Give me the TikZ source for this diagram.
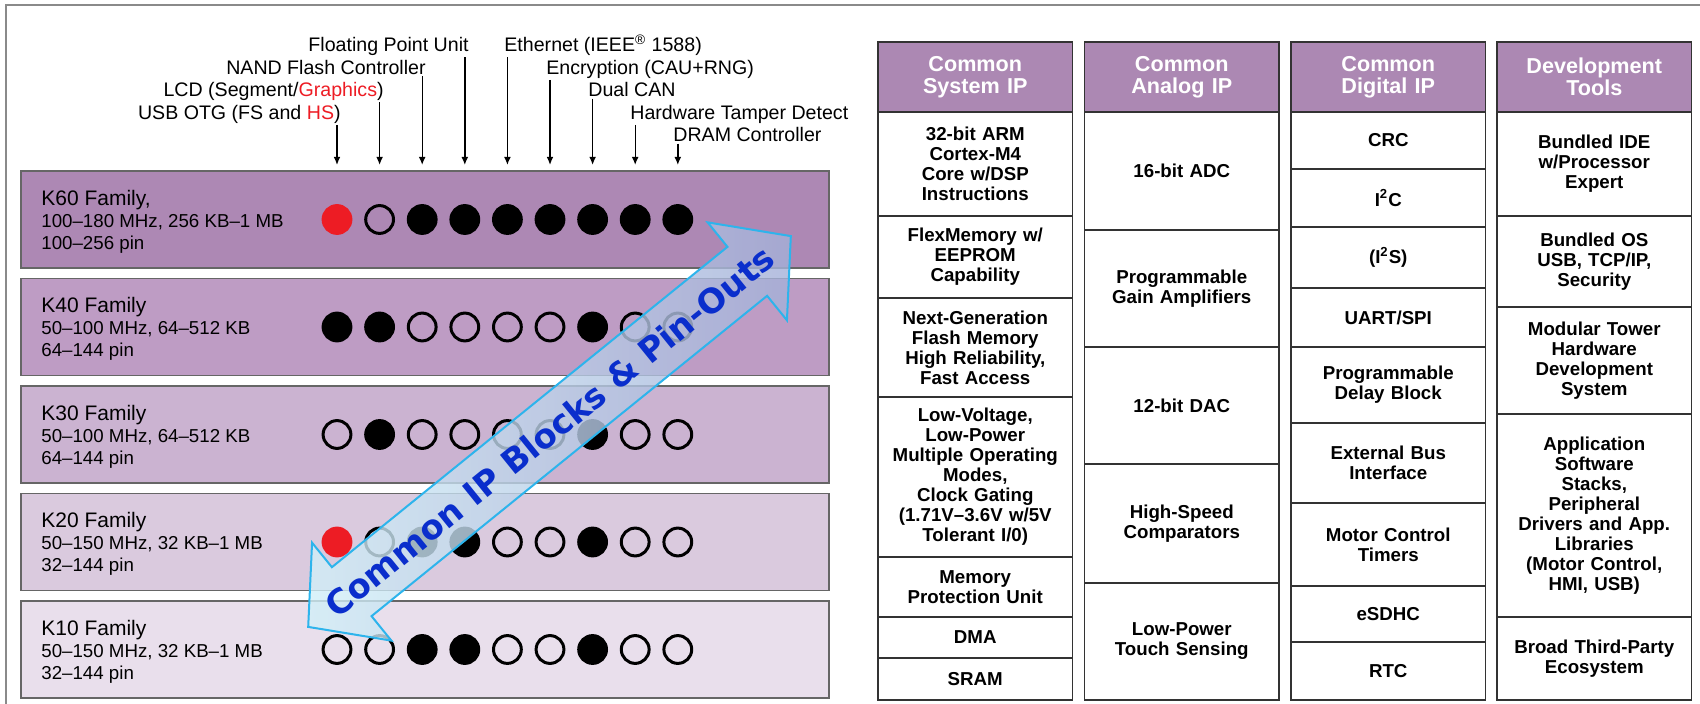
\documentclass[tikz,border=0pt]{standalone}
\usepackage{fontspec}
\setmainfont{Liberation Sans}
\newfontfamily\arrowfont{DejaVu Sans}
\usepackage{xcolor}
\usetikzlibrary{
  arrows.meta,
  positioning
}
\definecolor{kfSixty}{HTML}{AD88B4}
\definecolor{kfForty}{HTML}{BE9CC4}
\definecolor{kfThirty}{HTML}{CBB3D1}
\definecolor{kfTwenty}{HTML}{DACADE}
\definecolor{kfTen}{HTML}{E9DFEC}
\definecolor{kfHead}{HTML}{AC88B3}
\definecolor{kfRed}{HTML}{ED1C24}
\definecolor{kfCyan}{HTML}{2DB4EC}
\definecolor{kfBlue}{HTML}{0A2ECC}
\definecolor{kfArrowLo}{HTML}{D2F0F8}
\definecolor{kfArrowHi}{HTML}{A4B0D8}
\definecolor{kfFrame}{HTML}{8A8A8A}
\tikzset{
  famrow/.style={
    draw=black!60, line width=0.6pt, minimum width=404pt, minimum height=48.5pt,
    outer sep=0pt, inner sep=0pt
  },
  famtxt/.style={font=\fontsize{9.35}{11}\selectfont, align=left, inner sep=0.5pt, anchor=west},
  feature/.style={font=\fontsize{9.8}{11}\selectfont, inner sep=0.5pt},
  featarrow/.style={-{Latex[length=4pt, width=3.4pt]}, line width=0.7pt, shorten >=3pt},
  dot/.style={circle, minimum size=13.9pt, inner sep=0pt, line width=1.5pt},
  doto/.style={dot, draw=black},
  dotb/.style={dot, draw=black, fill=black},
  dotr/.style={dot, draw=kfRed, fill=kfRed},
  iphead/.style={
    draw=black!80, line width=0.9pt, fill=kfHead, text=white,
    font=\fontsize{10.8}{11}\selectfont\bfseries, minimum height=35pt,
    text width=97.25pt, align=center, inner sep=0pt, outer sep=0pt, anchor=north west
  },
  ipcell/.style={
    draw=black!80, line width=0.9pt, fill=white, font=\fontsize{9.35}{10}\selectfont\bfseries,
    text width=97.25pt, align=center, inner sep=0pt, outer sep=0pt
  },
  bigarrow/.style={draw=kfCyan, line width=1pt, left color=kfArrowLo, right color=kfArrowHi, fill opacity=0.8},
  arrowtxt/.style={font=\arrowfont\fontsize{16.9}{18}\selectfont\bfseries, text=kfBlue, rotate=39, inner sep=0pt},
  frameline/.style={draw=kfFrame, line width=1pt}
}

\begin{document}
\begin{tikzpicture}[x=0.5pt, y=-0.5pt, node distance=5.25pt]
  \useasboundingbox (0,0) rectangle (1700,704);
  \draw[frameline] (6,704) -- (6,5) -- (1700,5);

  \node[famrow, fill=kfSixty, anchor=north west] (k60) at (21,171) {};
  \node[famrow, fill=kfForty, below=of k60] (k40) {};
  \node[famrow, fill=kfThirty, below=of k40] (k30) {};
  \node[famrow, fill=kfTwenty, below=of k30] (k20) {};
  \node[famrow, fill=kfTen, below=of k20] (k10) {};

  \node[famtxt] (k60txt) at ([xshift=9.5pt, yshift=-1pt]k60.west) {{\fontsize{10.5}{11}\selectfont K60 Family,}\\100–180 MHz, 256 KB–1 MB\\100–256 pin};
  \node[famtxt] (k40txt) at ([xshift=9.5pt, yshift=-1pt]k40.west) {{\fontsize{10.5}{11}\selectfont K40 Family}\\50–100 MHz, 64–512 KB\\64–144 pin};
  \node[famtxt] (k30txt) at ([xshift=9.5pt, yshift=-1pt]k30.west) {{\fontsize{10.5}{11}\selectfont K30 Family}\\50–100 MHz, 64–512 KB\\64–144 pin};
  \node[famtxt] (k20txt) at ([xshift=9.5pt, yshift=-1pt]k20.west) {{\fontsize{10.5}{11}\selectfont K20 Family}\\50–150 MHz, 32 KB–1 MB\\32–144 pin};
  \node[famtxt] (k10txt) at ([xshift=9.5pt, yshift=-1pt]k10.west) {{\fontsize{10.5}{11}\selectfont K10 Family}\\50–150 MHz, 32 KB–1 MB\\32–144 pin};

  \foreach \f [count=\i] in {r,o,b,b,b,b,b,b,b}
    \node[dot\f] (k60-\i) at ([xshift={158pt+21.3pt*(\i-1)}]k60.west) {};
  \foreach \f [count=\i] in {b,b,o,o,o,o,b,o,o}
    \node[dot\f] (k40-\i) at ([xshift={158pt+21.3pt*(\i-1)}]k40.west) {};
  \foreach \f [count=\i] in {o,b,o,o,o,o,b,o,o}
    \node[dot\f] (k30-\i) at ([xshift={158pt+21.3pt*(\i-1)}]k30.west) {};
  \foreach \f [count=\i] in {r,o,b,b,o,o,b,o,o}
    \node[dot\f] (k20-\i) at ([xshift={158pt+21.3pt*(\i-1)}]k20.west) {};
  \foreach \f [count=\i] in {o,o,b,b,o,o,b,o,o}
    \node[dot\f] (k10-\i) at ([xshift={158pt+21.3pt*(\i-1)}]k10.west) {};

  \node[feature, anchor=base east] (usb) at (342,119.5) {USB OTG (FS and \textcolor{kfRed}{HS})};
  \node[feature, anchor=base east] (lcd) at (385,97) {LCD (Segment/\textcolor{kfRed}{Graphics})};
  \node[feature, anchor=base east] (nand) at (427,74.5) {NAND Flash Controller};
  \node[feature, anchor=base east] (fpu) at (470,51.7) {Floating Point Unit};
  \node[feature, anchor=base west] (eth) at (503,51.7) {Ethernet (IEEE\textsuperscript{\textregistered} 1588)};
  \node[feature, anchor=base west] (enc) at (545,74.5) {Encryption (CAU+RNG)};
  \node[feature, anchor=base west] (can) at (587,97) {Dual CAN};
  \node[feature, anchor=base west] (tamper) at (629,119.5) {Hardware Tamper Detect};
  \node[feature, anchor=base west] (dram) at (672,142) {DRAM Controller};
  \foreach \lab [count=\i] in {usb,lcd,nand,fpu,eth,enc,can,tamper,dram}
    \draw[featarrow] (\lab.south -| k60-\i) -- (k60-\i |- k60.north);

  \begin{scope}[shift={(549.5,431.5)}, rotate=39]
    \draw[bigarrow] (310.5,0) -- (254.5,63) -- (254.5,31.5) -- (-254.5,31.5) -- (-254.5,63)
      -- (-310.5,0) -- (-254.5,-63) -- (-254.5,-31.5) -- (254.5,-31.5) -- (254.5,-63) -- cycle;
  \end{scope}
  \node[arrowtxt] (iptext) at (549.5,431.5) {Common IP Blocks \& Pin-Outs};

  \node[iphead] (syshd) at (878,42) {Common\\System IP};
  \node[ipcell, minimum height=52pt, below=0pt of syshd] (sys1) {32-bit ARM\\Cortex-M4\\Core w/DSP\\Instructions};
  \node[ipcell, minimum height=41pt, below=0pt of sys1] (sys2) {FlexMemory w/\\EEPROM\\Capability};
  \node[ipcell, minimum height=49.5pt, below=0pt of sys2] (sys3) {Next-Generation\\Flash Memory\\High Reliability,\\Fast Access};
  \node[ipcell, minimum height=80pt, below=0pt of sys3] (sys4) {Low-Voltage,\\Low-Power\\Multiple Operating\\Modes,\\Clock Gating\\(1.71V–3.6V w/5V\\Tolerant I/0)};
  \node[ipcell, minimum height=30pt, below=0pt of sys4] (sys5) {Memory\\Protection Unit};
  \node[ipcell, minimum height=20.5pt, below=0pt of sys5] (sys6) {DMA};
  \node[ipcell, minimum height=21pt, below=0pt of sys6] (sys7) {SRAM};

  \node[iphead] (anahd) at (1084.5,42) {Common\\Analog IP};
  \node[ipcell, minimum height=59pt, below=0pt of anahd] (ana1) {16-bit ADC};
  \node[ipcell, minimum height=58.5pt, below=0pt of ana1] (ana2) {Programmable\\Gain Amplifiers};
  \node[ipcell, minimum height=58.5pt, below=0pt of ana2] (ana3) {12-bit DAC};
  \node[ipcell, minimum height=59.5pt, below=0pt of ana3] (ana4) {High-Speed\\Comparators};
  \node[ipcell, minimum height=58.5pt, below=0pt of ana4] (ana5) {Low-Power\\Touch Sensing};

  \node[iphead] (dighd) at (1291,42) {Common\\Digital IP};
  \node[ipcell, minimum height=28.5pt, below=0pt of dighd] (dig1) {CRC};
  \node[ipcell, minimum height=29pt, below=0pt of dig1] (dig2) {I\textsuperscript{2}C};
  \node[ipcell, minimum height=30.5pt, below=0pt of dig2] (dig3) {(I\textsuperscript{2}S)};
  \node[ipcell, minimum height=29.5pt, below=0pt of dig3] (dig4) {UART/SPI};
  \node[ipcell, minimum height=38pt, below=0pt of dig4] (dig5) {Programmable\\Delay Block};
  \node[ipcell, minimum height=40pt, below=0pt of dig5] (dig6) {External Bus\\Interface};
  \node[ipcell, minimum height=41.5pt, below=0pt of dig6] (dig7) {Motor Control\\Timers};
  \node[ipcell, minimum height=28pt, below=0pt of dig7] (dig8) {eSDHC};
  \node[ipcell, minimum height=29pt, below=0pt of dig8] (dig9) {RTC};

  \node[iphead] (devhd) at (1497,42) {Development\\Tools};
  \node[ipcell, minimum height=52pt, below=0pt of devhd] (dev1) {Bundled IDE\\w/Processor\\Expert};
  \node[ipcell, minimum height=45.5pt, below=0pt of dev1] (dev2) {Bundled OS\\USB, TCP/IP,\\Security};
  \node[ipcell, minimum height=53.5pt, below=0pt of dev2] (dev3) {Modular Tower\\Hardware\\Development\\System};
  \node[ipcell, minimum height=101.5pt, below=0pt of dev3] (dev4) {Application\\Software\\Stacks,\\Peripheral\\Drivers and App.\\Libraries\\(Motor Control,\\HMI, USB)};
  \node[ipcell, minimum height=41.5pt, below=0pt of dev4] (dev5) {Broad Third-Party\\Ecosystem};
\end{tikzpicture}
\end{document}
